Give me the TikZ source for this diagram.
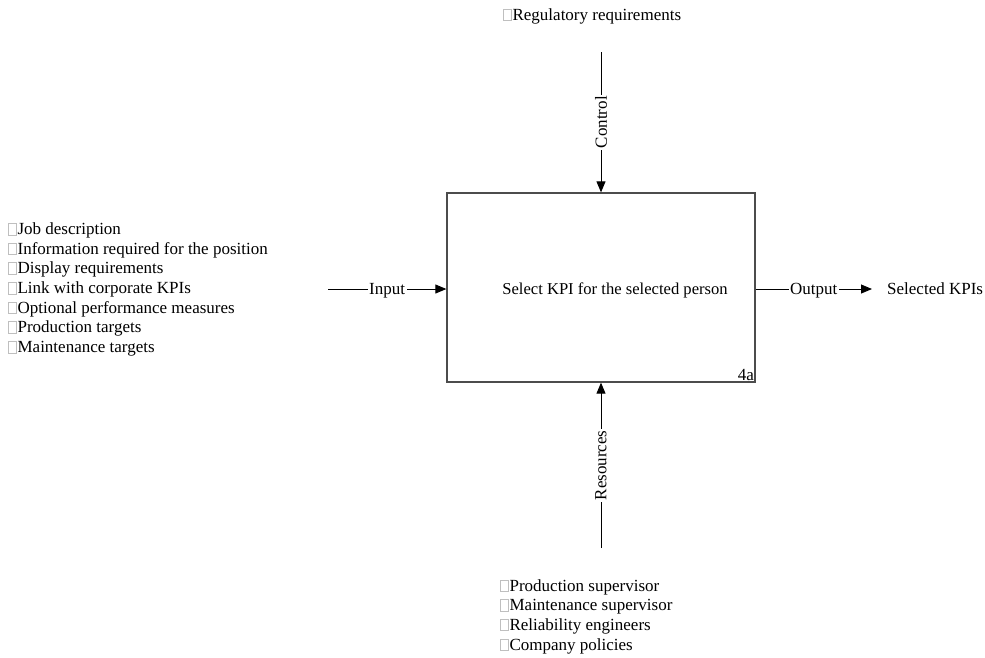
\documentclass[tikz,border=0pt]{standalone}
\usepackage{fontspec}
\setmainfont{Liberation Serif}
\usetikzlibrary{arrows.meta}
% empty placeholder box printed in front of each list item
\newcommand\tofu{{\color{black!25}\setlength\fboxsep{0pt}\setlength\fboxrule{0.45pt}\fbox{\rule{0pt}{11pt}\hspace{7.5pt}}}\kern1pt}
\begin{document}
\begin{tikzpicture}[x=1pt,y=-1pt,
  font=\fontsize{17}{19.7}\selectfont,
  act/.style={draw=black!70, line width=1.3pt, minimum width=308pt, minimum height=189pt, inner sep=0pt},
  flow/.style={draw=black, line width=0.9pt, -{Triangle[length=11pt,width=9pt]}},
  lbl/.style={fill=white, inner sep=1.5pt},
  hlbl/.style={lbl, yshift=-2pt},
  list/.style={align=left, inner sep=0pt, anchor=west}]
\useasboundingbox (0,0) rectangle (985,657);

% activity box
\node[act] (A) at (601,287.5) {};
\node[inner sep=0pt, font=\fontsize{16.6}{19.7}\selectfont] (Atitle) at (615,290) {Select KPI for the selected person};
\node[anchor=south east, inner sep=1.5pt] (num) at (A.south east) {4a};

% free ends of the ICOM arrows
\coordinate (inS) at (328,289);
\coordinate (outE) at (872,289);
\coordinate (ctS) at (601,52);
\coordinate (rsS) at (601,548);

\draw[flow] (inS) -- node[hlbl] {Input} (inS -| A.west);
\draw[flow] (A.east |- outE) -- node[hlbl] {Output} (outE);
\draw[flow] (ctS) -- node[lbl, rotate=90] {Control} (ctS |- A.north);
\draw[flow] (rsS) -- node[lbl, rotate=90] {Resources} (rsS |- A.south);

% lists of inputs, outputs, controls and mechanisms
\node[list, font=\fontsize{17}{19.67}\selectfont] (inputs) at (8,289.5) {\tofu Job description\\
\tofu Information required for the position\\
\tofu Display requirements\\
\tofu Link with corporate KPIs\\
\tofu Optional performance measures\\
\tofu Production targets\\
\tofu Maintenance targets};
\node[list] (outputs) at (887,289) {Selected KPIs};
\node[list] (controls) at (503,16) {\tofu Regulatory requirements};
\node[list] (mechs) at (500,616.5) {\tofu Production supervisor\\
\tofu Maintenance supervisor\\
\tofu Reliability engineers\\
\tofu Company policies};
\end{tikzpicture}
\end{document}
